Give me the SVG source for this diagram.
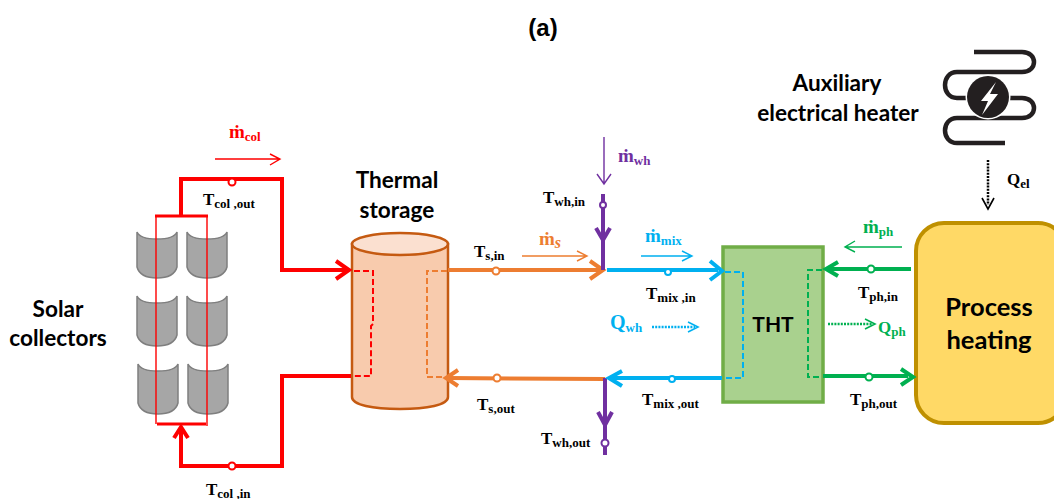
<svg xmlns="http://www.w3.org/2000/svg" width="1054" height="499" viewBox="0 0 1054 499">
<style>
.lab{font-family:Lato,"Liberation Sans",Arial,sans-serif;font-weight:bold;font-size:22.6px;fill:#000;text-anchor:middle}
.big{font-size:25.5px}
.mid{font-size:21px}
.title{font-family:"Liberation Sans",Arial,sans-serif;font-size:24px}
.sym{font-family:"Liberation Serif","Times New Roman",serif;font-weight:bold;font-size:17px;fill:#000}
.m{font-size:19px}
.sub{font-size:13px}
.red{stroke:#fe0000}.org{stroke:#ed7d31}.pur{stroke:#7030a0}.blu{stroke:#00b0f0}.grn{stroke:#00b050}
.tr{fill:#fe0000}.to{fill:#ed7d31}.tp{fill:#7030a0}.tb{fill:#00b0f0}.tg{fill:#00b050}
.pipe{fill:none;stroke-width:4}
.thin{fill:none;stroke-width:1.4}
.dash{fill:none;stroke-width:2;stroke-dasharray:6 3}
.dot{fill:none;stroke-width:2.5;stroke-dasharray:2 1.2}
.head{fill:none;stroke-width:4}
.shead{fill:none;stroke-width:1.6}
.sensor{fill:#fff;stroke-width:2}
.coll{fill:#a6a6a6;stroke:#7f7f7f;stroke-width:1.5}
</style>
<defs>
<path id="c1" d="M0 0Q3 7 20 7Q37 7 40 0V35Q37 46 20 46Q3 46 0 35Z"/>
<path id="c2" d="M0 0Q3 7 20 7Q37 7 40 0V39Q37 50 20 50Q3 50 0 39Z"/>
</defs>
<rect width="1054" height="499" fill="#fff"/>
<text x="543" y="36" class="lab title">(a)</text>

<g id="solar-collectors">
<use href="#c1" x="137" y="232" class="coll"/>
<use href="#c1" x="187" y="232" class="coll"/>
<use href="#c2" x="137" y="296" class="coll"/>
<use href="#c2" x="187" y="296" class="coll"/>
<use href="#c2" x="138" y="364" class="coll"/>
<use href="#c2" x="188" y="364" class="coll"/>
<text x="58" y="317" class="lab">Solar</text>
<text x="58" y="346" class="lab">collectors</text>
</g>

<g id="thermal-storage">
<path d="M352 244V397C352 405 373 409 400 409C427 409 448 405 448 397V244Z" fill="#f8cbad" stroke="#c55a11" stroke-width="2.5"/>
<ellipse cx="400" cy="244" rx="48" ry="11" fill="#fbe0d0" stroke="#c55a11" stroke-width="2.5"/>
<text x="397" y="188" class="lab">Thermal</text>
<text x="397" y="218" class="lab">storage</text>
</g>

<g id="tht">
<rect x="723" y="247" width="100" height="155" fill="#a9d18e" stroke="#70ad47" stroke-width="3.5"/>
<text x="773" y="332" class="lab mid">THT</text>
</g>

<g id="process-heating">
<rect x="916" y="223" width="150" height="200" rx="28" fill="#ffd966" stroke="#bf9000" stroke-width="4"/>
<text x="989" y="316" class="lab big">Process</text>
<text x="989" y="349" class="lab big">heating</text>
</g>

<g id="auxiliary-heater">
<path d="M974 52H1022C1038 52 1038 72 1022 72H957C941 72 941 98 957 98H970M1005 98H1022C1038 98 1038 118 1022 118H957C941 118 941 143 957 143H1005" fill="none" stroke="#231f20" stroke-width="4.5"/>
<circle cx="988" cy="97" r="22.5" fill="#fff"/>
<circle cx="988" cy="97" r="21" fill="#231f20"/>
<path d="M996 82L981 101H988L982 115L998 94H990Z" fill="#fff"/>
<text x="837" y="91" class="lab">Auxiliary</text>
<text x="838" y="121" class="lab">electrical heater</text>
</g>

<g id="connectors">
<path class="pipe red" d="M181 216V179H282V270H346"/>
<path class="head red" d="M336 261L349 270L336 279"/>
<path class="pipe red" d="M351 376H282V466H181V428"/>
<path class="head red" d="M174 438L181 427L188 438"/>
<path class="pipe red" style="stroke-width:3" d="M155 216H208M157 424H206"/>
<path class="thin red" d="M156 216V424M207 216V426"/>
<path class="dash red" d="M354 271H373V324L371 326V376H352"/>
<path class="dash org" d="M447 271H427V377H447"/>
<path class="pipe org" d="M448 270H600"/>
<path class="head org" d="M590 261L603 270L590 279"/>
<path class="pipe org" d="M448 378L605 379"/>
<path class="head org" d="M458 370L446 378L458 386"/>
<path class="pipe pur" d="M603 194V270"/>
<path class="head pur" d="M596 228L603 240L610 228"/>
<path class="pipe pur" d="M605 378V455"/>
<path class="head pur" d="M598 412L605 425L612 412"/>
<path class="pipe blu" d="M607 270H718"/>
<path class="head blu" d="M710 261L722 271L710 280"/>
<path class="pipe blu" d="M610 378H722"/>
<path class="head blu" d="M622 371L609 378L622 386"/>
<path class="dash blu" d="M725 272H743V378H725"/>
<path class="pipe grn" d="M911 269H827"/>
<path class="head grn" d="M838 262L826 269L838 276"/>
<path class="pipe grn" d="M823 376H908"/>
<path class="head grn" d="M901 369L913 377L901 385"/>
<path class="dash grn" d="M822 270H808V377H822"/>
<circle class="sensor red" cx="232" cy="182" r="3.5"/>
<circle class="sensor red" cx="232" cy="466" r="3.5"/>
<circle class="sensor org" cx="496" cy="271" r="3.5"/>
<circle class="sensor org" cx="497" cy="378" r="3.5"/>
<circle class="sensor pur" cx="603" cy="205" r="3"/>
<circle class="sensor pur" cx="605" cy="443" r="3.5"/>
<circle class="sensor blu" cx="668" cy="272" r="3"/>
<circle class="sensor blu" cx="672" cy="379" r="3"/>
<circle class="sensor grn" cx="871" cy="269" r="3.5"/>
<circle class="sensor grn" cx="869" cy="377" r="3.5"/>
<path class="thin red" d="M215 159H280M270 154L280 159L270 165"/>
<path class="thin org" d="M522 256H587M577 251L587 256L577 261"/>
<path class="thin pur" d="M604 137V184M597 174L604 184L611 174"/>
<path class="thin blu" d="M641 256H692M682 251L692 256L682 261"/>
<path class="thin grn" d="M902 247H845M855 241L845 247L855 252"/>
<path class="dot blu" d="M652 327H695"/>
<path class="shead blu" d="M688 322L698 327L688 332"/>
<path class="dot grn" d="M828 324H872"/>
<path class="shead grn" d="M865 319L875 324L865 329"/>
<path class="dot" stroke="#000" d="M988 160V205"/>
<path class="shead" stroke="#000" d="M982 198L988 209L994 198"/>
</g>

<g id="labels">
<text class="sym m tr" x="229" y="138">ṁ<tspan class="sub" dy="3">col</tspan></text>
<text class="sym" x="203" y="205">T<tspan class="sub" dy="3">col ,out</tspan></text>
<text class="sym" x="206" y="495">T<tspan class="sub" dy="3">col ,in</tspan></text>
<text class="sym" x="474" y="257">T<tspan class="sub" dy="3">s,in</tspan></text>
<text class="sym m to" x="539" y="245">ṁ<tspan class="sub" dy="3" style="font-size:16px;font-style:italic">s</tspan></text>
<text class="sym" x="477" y="410">T<tspan class="sub" dy="3">s,out</tspan></text>
<text class="sym m tp" x="618" y="162">ṁ<tspan class="sub" dy="3">wh</tspan></text>
<text class="sym" x="543" y="203">T<tspan class="sub" dy="3">wh,in</tspan></text>
<text class="sym" x="541" y="444">T<tspan class="sub" dy="3">wh,out</tspan></text>
<text class="sym m tb" x="645" y="242">ṁ<tspan class="sub" dy="3">mix</tspan></text>
<text class="sym" x="646" y="299">T<tspan class="sub" dy="3">mix ,in</tspan></text>
<text class="sym" x="642" y="405">T<tspan class="sub" dy="3">mix ,out</tspan></text>
<text class="sym tb" x="610" y="329" style="font-size:20px">Q<tspan class="sub" dy="3">wh</tspan></text>
<text class="sym tg" x="878" y="333">Q<tspan class="sub" dy="3">ph</tspan></text>
<text class="sym m tg" x="863" y="233">ṁ<tspan class="sub" dy="3">ph</tspan></text>
<text class="sym" x="858" y="298">T<tspan class="sub" dy="3">ph,in</tspan></text>
<text class="sym" x="850" y="405">T<tspan class="sub" dy="3">ph,out</tspan></text>
<text class="sym" x="1007" y="185">Q<tspan class="sub" dy="3">el</tspan></text>
</g>
</svg>
